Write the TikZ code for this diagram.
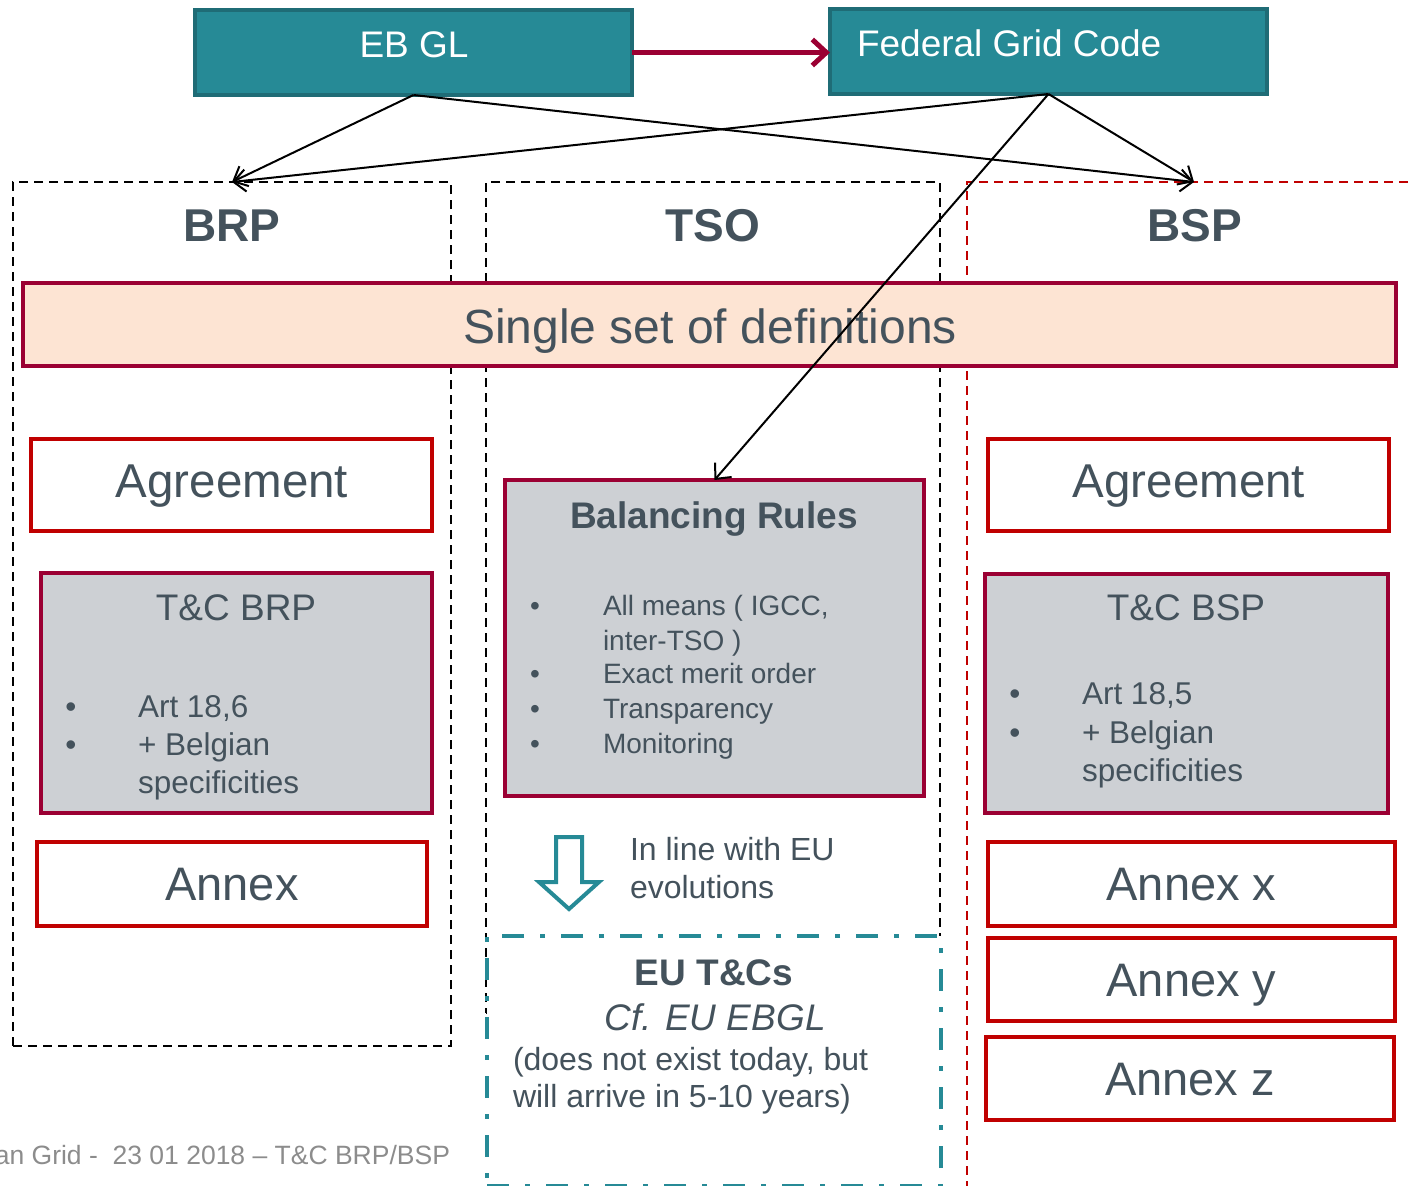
\documentclass[tikz,border=0pt]{standalone}
\usepackage{fontspec}
\setmainfont{Liberation Sans}
\usetikzlibrary{arrows.meta}
\definecolor{txtc}{HTML}{44525C}
\definecolor{tealc}{HTML}{268A96}
\definecolor{tealdk}{HTML}{1F6C76}
\definecolor{maroonc}{HTML}{9B0033}
\definecolor{redc}{HTML}{C00000}
\definecolor{grayc}{HTML}{CDD0D4}
\definecolor{peachc}{HTML}{FDE4D3}
\definecolor{footc}{HTML}{8C8C8C}
\newcommand\myfs[1]{\fontsize{#1}{#1}\selectfont}
\begin{document}
\begin{tikzpicture}[x=1pt,y=-1pt,
  every node/.style={inner sep=0pt, outer sep=0pt},
  tealbox/.style={draw=tealdk, fill=tealc, line width=3.5pt, rectangle},
  blkframe/.style={draw=black, line width=2.8pt, dash pattern=on 9pt off 6pt, rectangle},
  redframe/.style={draw=redc, line width=2.5pt, dash pattern=on 9pt off 6pt, rectangle},
  eubox/.style={draw=tealc, fill=white, line width=4.5pt, dash pattern=on 22pt off 16pt on 5pt off 16pt, rectangle},
  redbox/.style={draw=redc, fill=white, line width=4.5pt, rectangle},
  greybox/.style={draw=maroonc, fill=grayc, line width=4.5pt, rectangle},
  peachbox/.style={draw=maroonc, fill=peachc, line width=4.5pt, rectangle},
  txt/.style={text=txtc, anchor=base},
  txtl/.style={text=txtc, anchor=base west},
  conn/.style={draw=black, line width=2pt, -{Straight Barb[length=12pt,width=22pt]}},
  redarr/.style={draw=maroonc, line width=5pt, -{Straight Barb[length=14pt,width=26pt]}},
]
\useasboundingbox (0,0) rectangle (1411,1186);
\clip (0,0) rectangle (1411,1186);

% columns
\node[blkframe, minimum width=438pt, minimum height=864pt] (brpcol) at (232,614) {};
\node[blkframe, minimum width=454pt, minimum height=831pt] (tsocol) at (713,597.5) {};
\node[redframe, minimum width=454pt, minimum height=1018pt] (bspcol) at (1194,691) {};

% headers
\node[txt, font=\myfs{46}\bfseries] (brph) at (232,241) {BRP};
\node[txt, font=\myfs{46}\bfseries] (tsoh) at (713,241) {TSO};
\node[txt, font=\myfs{46}\bfseries] (bsph) at (1195,241) {BSP};

% top boxes
\node[tealbox, minimum width=437pt, minimum height=85pt] (ebgl) at (413.5,52.5) {};
\node[anchor=base, text=white, font=\myfs{37}] (ebglt) at (414,57) {EB GL};
\node[tealbox, minimum width=437pt, minimum height=85pt] (fgc) at (1048.5,51.5) {};
\node[anchor=base west, text=white, font=\myfs{37}] (fgct) at (857,56) {Federal Grid Code};

% single set
\node[peachbox, minimum width=1373pt, minimum height=83pt] (single) at (709.5,324.5) {};
\node[txt, font=\myfs{48}] (singlet) at (710,343) {Single set of definitions};

% BRP column
\node[redbox, minimum width=401pt, minimum height=92pt] (agrL) at (231.5,485) {};
\node[txt, font=\myfs{47.5}] (agrLt) at (232,497) {Agreement};
\node[greybox, minimum width=391pt, minimum height=240pt] (tcbrp) at (236.5,693) {};
\node[txt, font=\myfs{37}] (tcbrpt) at (236,620) {T\&C BRP};
\node[txt, font=\myfs{31.5}] (bl1) at (71,717) {•};
\node[txt, font=\myfs{31.5}] (bl2) at (71,755) {•};
\node[txtl, font=\myfs{31.5}] (tl1) at (138,717) {Art 18,6};
\node[txtl, font=\myfs{31.5}] (tl2) at (138,755) {+ Belgian};
\node[txtl, font=\myfs{31.5}] (tl3) at (138,793) {specificities};
\node[redbox, minimum width=390pt, minimum height=84pt] (annexL) at (232,884) {};
\node[txt, font=\myfs{47}] (annexLt) at (232,900) {Annex};

% TSO column
\node[greybox, minimum width=419pt, minimum height=316pt] (balr) at (714.5,638) {};
\node[txt, font=\myfs{37}\bfseries] (balrt) at (714,528) {Balancing Rules};
\node[txt, font=\myfs{28}] (bb1) at (535,615) {•};
\node[txt, font=\myfs{28}] (bb2) at (535,683) {•};
\node[txt, font=\myfs{28}] (bb3) at (535,718) {•};
\node[txt, font=\myfs{28}] (bb4) at (535,753) {•};
\node[txtl, font=\myfs{28}] (bt1) at (603,615) {All means ( IGCC,};
\node[txtl, font=\myfs{28}] (bt1b) at (603,650) {inter-TSO )};
\node[txtl, font=\myfs{28}] (bt2) at (603,683) {Exact merit order};
\node[txtl, font=\myfs{28}] (bt3) at (603,718) {Transparency};
\node[txtl, font=\myfs{28}] (bt4) at (603,753) {Monitoring};

\draw[tealc, line width=4pt, line join=miter] (556,837) -- (582,837) -- (582,882) -- (599,882) -- (569,909) -- (539,882) -- (556,882) -- cycle;
\node[txtl, font=\myfs{32}] (inl1) at (630,860) {In line with EU};
\node[txtl, font=\myfs{32}] (inl2) at (630,898) {evolutions};

\node[eubox, minimum width=454pt, minimum height=250pt] (eutc) at (714,1061) {};
\node[txt, font=\myfs{37}\bfseries] (eut1) at (714,985) {EU T\&Cs};
\node[txt, font=\myfs{37}\itshape] (eut2) at (715,1030) {Cf. EU EBGL};
\node[txtl, font=\myfs{32}] (eut3) at (513,1070) {(does not exist today, but};
\node[txtl, font=\myfs{32}] (eut4) at (513,1107) {will arrive in 5-10 years)};

% BSP column
\node[redbox, minimum width=401pt, minimum height=92pt] (agrR) at (1188.5,485) {};
\node[txt, font=\myfs{47.5}] (agrRt) at (1189,497) {Agreement};
\node[greybox, minimum width=403pt, minimum height=239pt] (tcbsp) at (1186.5,693.5) {};
\node[txt, font=\myfs{37}] (tcbspt) at (1186,620) {T\&C BSP};
\node[txt, font=\myfs{31.5}] (br1) at (1015,704) {•};
\node[txt, font=\myfs{31.5}] (br2) at (1015,743) {•};
\node[txtl, font=\myfs{31.5}] (tr1) at (1082,704) {Art 18,5};
\node[txtl, font=\myfs{31.5}] (tr2) at (1082,743) {+ Belgian};
\node[txtl, font=\myfs{31.5}] (tr3) at (1082,781) {specificities};
\node[redbox, minimum width=407pt, minimum height=84pt] (annx) at (1191.5,884) {};
\node[txt, font=\myfs{47}] (annxt) at (1191.5,900) {Annex x};
\node[redbox, minimum width=407pt, minimum height=83pt] (anny) at (1191.5,979.5) {};
\node[txt, font=\myfs{47}] (annyt) at (1191.5,996) {Annex y};
\node[redbox, minimum width=408pt, minimum height=83pt] (annz) at (1190,1078.5) {};
\node[txt, font=\myfs{47}] (annzt) at (1190,1095) {Annex z};

% footer
\node[anchor=base east, text=footc, font=\myfs{26.5}] (foot) at (450,1164) {an Grid -\ \ 23 01 2018 – T\&C BRP/BSP};

% connectors
\draw[redarr] (ebgl.east) -- (ebgl.east -| fgc.west);
\draw[conn] (ebgl.south) -- (brpcol.north);
\draw[conn] (ebgl.south) -- (bspcol.north);
\draw[conn] (fgc.south) -- (brpcol.north);
\draw[conn] (fgc.south) -- (bspcol.north);
\draw[conn] (fgc.south) -- (balr.north);
\end{tikzpicture}
\end{document}
